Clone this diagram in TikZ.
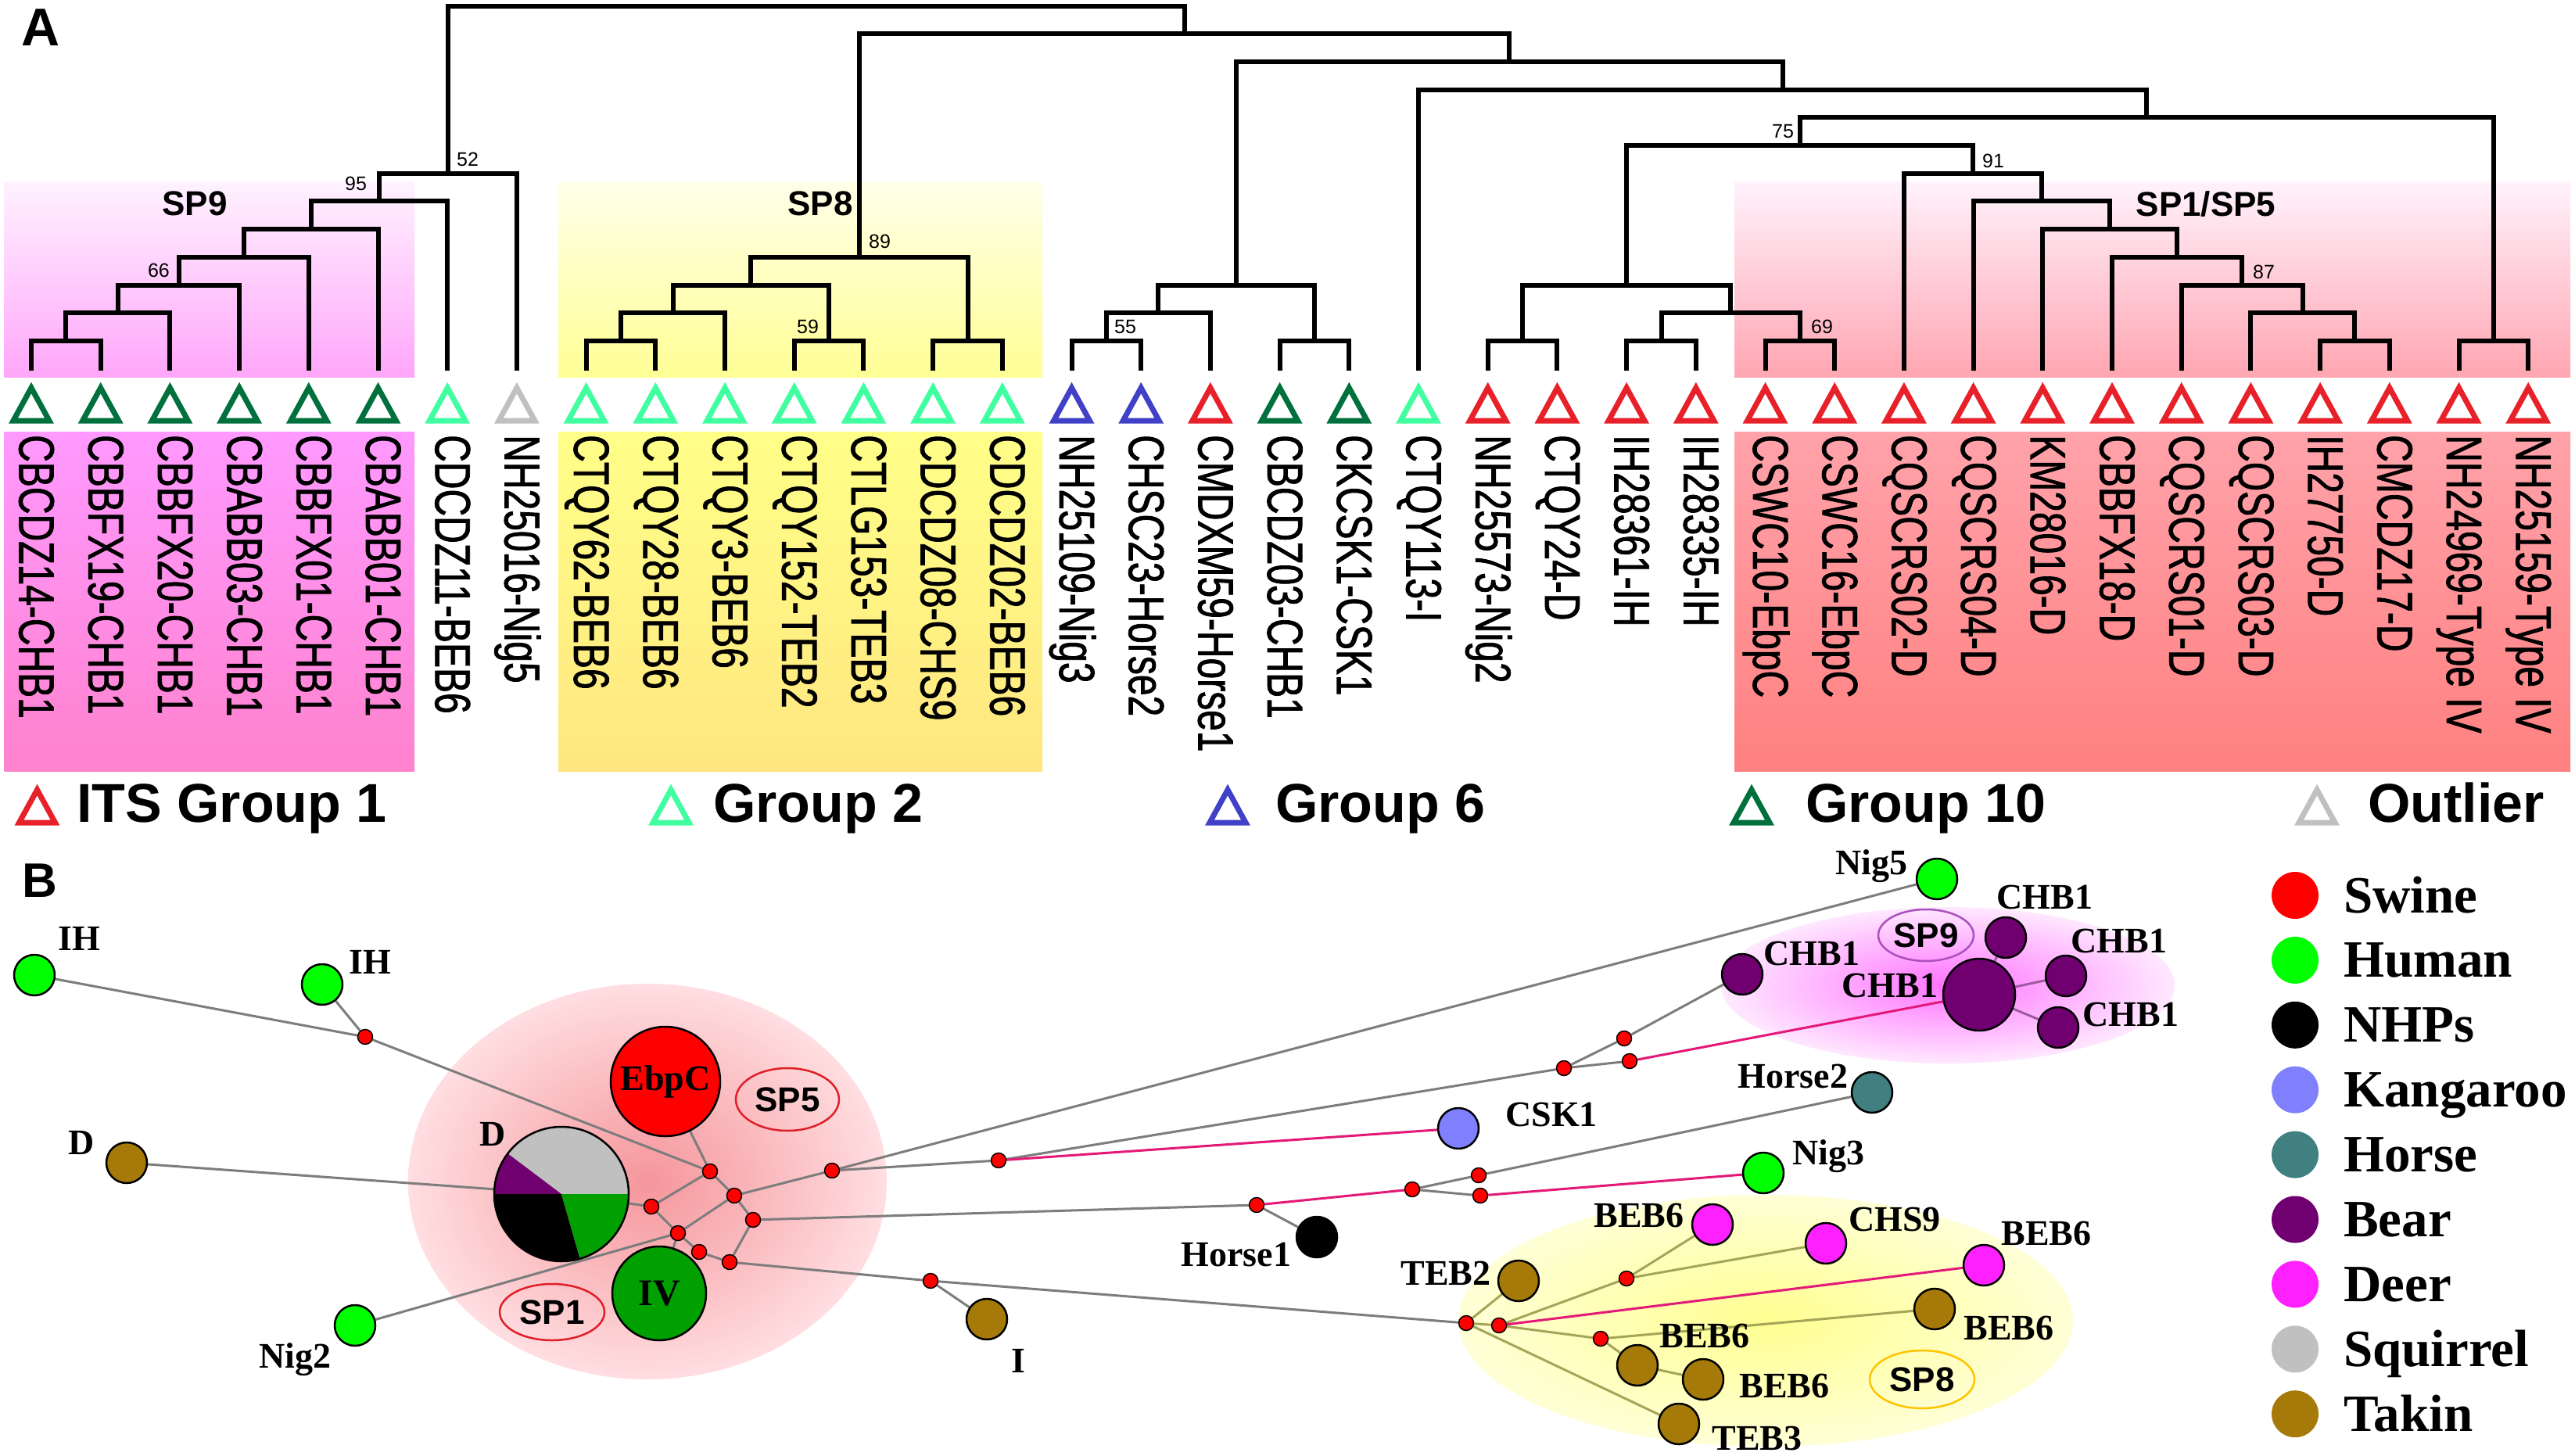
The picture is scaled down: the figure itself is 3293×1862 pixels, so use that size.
\documentclass[tikz,border=0pt]{standalone}
\usepackage{fontspec}
\setmainfont{Liberation Serif}
\newfontfamily\arialf{Liberation Sans}
\newfontfamily\leaff[FakeStretch=0.75,FakeBold=1.2]{Liberation Sans}
\usetikzlibrary{shapes.geometric}
\pgfdeclarelayer{bgbg}
\pgfdeclarelayer{bg}
\pgfsetlayers{bgbg,bg,main}
\definecolor{grpA}{RGB}{232,32,42}
\definecolor{grpB}{RGB}{64,255,160}
\definecolor{grpC}{RGB}{64,64,200}
\definecolor{grpD}{RGB}{0,112,60}
\definecolor{grpE}{RGB}{192,192,192}
\definecolor{swine}{RGB}{255,0,0}
\definecolor{human}{RGB}{0,255,0}
\definecolor{kang}{RGB}{128,128,255}
\definecolor{horse}{RGB}{64,128,128}
\definecolor{bear}{RGB}{112,0,112}
\definecolor{deer}{RGB}{255,32,255}
\definecolor{squir}{RGB}{192,192,192}
\definecolor{takin}{RGB}{165,122,8}
\definecolor{ivgreen}{RGB}{0,160,0}
\definecolor{edgegray}{RGB}{125,125,125}
\definecolor{edgemag}{RGB}{228,24,120}
\definecolor{edgeolive}{RGB}{165,165,90}
\definecolor{edgepurp}{RGB}{160,90,160}
\begin{document}
\begin{tikzpicture}[x=1pt,y=-1pt,
  tree/.style={line width=6pt, line join=miter},
  boot/.style={font=\arialf\fontsize{25}{25}\selectfont, inner sep=0},
  cladelab/.style={font=\arialf\bfseries\fontsize{44}{44}\selectfont, inner sep=0},
  leaflab/.style={rotate=-90, anchor=base west, inner sep=0, font=\leaff\fontsize{64}{64}\selectfont},
  grplab/.style={anchor=base west, inner sep=0, font=\arialf\bfseries\fontsize{70}{70}\selectfont},
  leaftri/.pic={\draw[line width=7pt, line join=miter] (0,-23) -- (-23,19) -- (23,19) -- cycle;},
  nn/.style={circle, draw=black, line width=2.5pt, inner sep=0, minimum size=52},
  sm/.style={circle, draw=black, line width=1.5pt, fill=swine, inner sep=0, minimum size=19},
  netlab/.style={font=\bfseries\fontsize{46}{46}\selectfont, inner sep=0},
  spell/.style={ellipse, line width=2.5pt, inner sep=0, font=\arialf\bfseries\fontsize{44}{44}\selectfont},
  gedge/.style={draw=edgegray, line width=3pt},
  medge/.style={draw=edgemag, line width=3pt},
  oedge/.style={draw=edgeolive, line width=3pt},
  pedge/.style={draw=edgepurp, line width=3pt},
  legtext/.style={anchor=base west, inner sep=0, font=\bfseries\fontsize{67}{67}\selectfont}
]
\useasboundingbox (0,0) rectangle (3293,1862);
\begin{pgfonlayer}{bgbg}
\fill[white] (0,0) rectangle (3293,1862);
% clade boxes
\shade[top color={rgb,255:red,255;green,242;blue,255}, bottom color={rgb,255:red,255;green,166;blue,250}] (5.6,233) rectangle (530,482);
\shade[top color={rgb,255:red,255;green,153;blue,255}, bottom color={rgb,255:red,255;green,130;blue,205}] (5.6,552) rectangle (530,986);
\shade[top color={rgb,255:red,255;green,255;blue,232}, bottom color={rgb,255:red,255;green,255;blue,150}] (714,233) rectangle (1333,482);
\shade[top color={rgb,255:red,255;green,255;blue,136}, bottom color={rgb,255:red,255;green,230;blue,128}] (714,552) rectangle (1333,986);
\shade[top color={rgb,255:red,255;green,242;blue,252}, bottom color={rgb,255:red,255;green,166;blue,178}] (2218,233) rectangle (3287,482);
\shade[top color={rgb,255:red,255;green,162;blue,170}, middle color={rgb,255:red,255;green,134;blue,134}, bottom color={rgb,255:red,255;green,128;blue,128}] (2218,552) rectangle (3287,986);
% network glows
\shade[inner color={rgb,255:red,245;green,150;blue,155}, outer color={rgb,255:red,255;green,222;blue,225}] (828,1511) ellipse [x radius=306, y radius=253];
\shade[inner color={rgb,255:red,255;green,115;blue,255}, outer color={rgb,255:red,255;green,232;blue,255}] (2491,1260) ellipse [x radius=290, y radius=100];
\shade[inner color={rgb,255:red,255;green,255;blue,145}, outer color={rgb,255:red,255;green,255;blue,215}] (2258,1689) ellipse [x radius=393, y radius=161];
\end{pgfonlayer}

% ---------------- Panel A ----------------
\node[font=\arialf\bfseries\fontsize{68}{68}\selectfont, inner sep=0] (labA) at (52,35) {A};
\foreach \i in {0,...,36} \coordinate (L\i) at ({40+88.7*\i},474);
\coordinate (A1) at (84.35,436);  \coordinate (A2) at (150.9,400.3);
\coordinate (A3) at (228.5,364.6); \coordinate (A4) at (311.6,328.9);
\coordinate (A5) at (397.6,293.2); \coordinate (A6) at (484.9,257.5);
\coordinate (A7) at (572.9,221.8);
\coordinate (B1) at (794,436); \coordinate (B2) at (860.5,400.3);
\coordinate (B3) at (1060,436); \coordinate (B4) at (960.3,364.6);
\coordinate (B5) at (1237.5,436); \coordinate (B6) at (1098.9,328.9);
\coordinate (C1) at (1414.9,436); \coordinate (C2) at (1481.4,400.3);
\coordinate (C3) at (1681,436); \coordinate (C4) at (1581.2,364.6);
\coordinate (D1) at (1947,436); \coordinate (D2) at (2124.5,436);
\coordinate (D3) at (2301.9,436); \coordinate (D4) at (2213.2,400.3);
\coordinate (D5) at (2080.1,364.6);
\coordinate (E1) at (3011.4,436); \coordinate (E2) at (2944.9,400.3);
\coordinate (E3) at (2867.3,364.6); \coordinate (E4) at (2784.2,328.9);
\coordinate (E5) at (2698.2,293.2); \coordinate (E6) at (2610.9,257.5);
\coordinate (E7) at (2522.9,221.8); \coordinate (E8) at (2301.5,186.1);
\coordinate (F1) at (3188.9,436); \coordinate (F2) at (2745.2,150.4);
\coordinate (F3) at (2279.6,114.7); \coordinate (F4) at (1930.4,79);
\coordinate (F5) at (1514.7,43.3); \coordinate (R) at (1043.8,7.6);

\draw[tree] (L0) |- (A1) -| (L1);
\draw[tree] (A1) |- (A2) -| (L2);
\draw[tree] (A2) |- (A3) -| (L3);
\draw[tree] (A3) |- (A4) -| (L4);
\draw[tree] (A4) |- (A5) -| (L5);
\draw[tree] (A5) |- (A6) -| (L6);
\draw[tree] (A6) |- (A7) -| (L7);
\draw[tree] (L8) |- (B1) -| (L9);
\draw[tree] (B1) |- (B2) -| (L10);
\draw[tree] (L11) |- (B3) -| (L12);
\draw[tree] (B2) |- (B4) -| (B3);
\draw[tree] (L13) |- (B5) -| (L14);
\draw[tree] (B4) |- (B6) -| (B5);
\draw[tree] (L15) |- (C1) -| (L16);
\draw[tree] (C1) |- (C2) -| (L17);
\draw[tree] (L18) |- (C3) -| (L19);
\draw[tree] (C2) |- (C4) -| (C3);
\draw[tree] (L21) |- (D1) -| (L22);
\draw[tree] (L23) |- (D2) -| (L24);
\draw[tree] (L25) |- (D3) -| (L26);
\draw[tree] (D2) |- (D4) -| (D3);
\draw[tree] (D1) |- (D5) -| (D4);
\draw[tree] (L33) |- (E1) -| (L34);
\draw[tree] (L32) |- (E2) -| (E1);
\draw[tree] (L31) |- (E3) -| (E2);
\draw[tree] (L30) |- (E4) -| (E3);
\draw[tree] (L29) |- (E5) -| (E4);
\draw[tree] (L28) |- (E6) -| (E5);
\draw[tree] (L27) |- (E7) -| (E6);
\draw[tree] (D5) |- (E8) -| (E7);
\draw[tree] (L35) |- (F1) -| (L36);
\draw[tree] (E8) |- (F2) -| (F1);
\draw[tree] (L20) |- (F3) -| (F2);
\draw[tree] (C4) |- (F4) -| (F3);
\draw[tree] (B6) |- (F5) -| (F4);
\draw[tree] (A7) |- (R) -| (F5);

% bootstrap values
\node[boot] (b52) at (598,204) {52};
\node[boot] (b95) at (455,235) {95};
\node[boot] (b66) at (203,346) {66};
\node[boot] (b59) at (1033,418) {59};
\node[boot] (b89) at (1125,309) {89};
\node[boot] (b55) at (1439,418) {55};
\node[boot] (b75) at (2280,168) {75};
\node[boot] (b91) at (2549,206) {91};
\node[boot] (b87) at (2895,348) {87};
\node[boot] (b69) at (2330,418) {69};
% clade labels
\node[cladelab] (sp9t) at (249,260) {SP9};
\node[cladelab] (sp8t) at (1049,260) {SP8};
\node[cladelab] (sp15t) at (2821,261) {SP1/SP5};

% leaves
\foreach \i/\txt/\col in {0/CBCDZ14-CHB1/grpD, 1/CBBFX19-CHB1/grpD, 2/CBBFX20-CHB1/grpD,
  3/CBABB03-CHB1/grpD, 4/CBBFX01-CHB1/grpD, 5/CBABB01-CHB1/grpD, 6/CDCDZ11-BEB6/grpB,
  7/NH25016-Nig5/grpE, 8/CTQY62-BEB6/grpB, 9/CTQY28-BEB6/grpB, 10/CTQY3-BEB6/grpB,
  11/CTQY152-TEB2/grpB, 12/CTLG153-TEB3/grpB, 13/CDCDZ08-CHS9/grpB, 14/CDCDZ02-BEB6/grpB,
  15/NH25109-Nig3/grpC, 16/CHSC23-Horse2/grpC, 17/CMDXM59-Horse1/grpA, 18/CBCDZ03-CHB1/grpD,
  19/CKCSK1-CSK1/grpD, 20/CTQY113-I/grpB, 21/NH25573-Nig2/grpA, 22/CTQY24-D/grpA,
  23/IH28361-IH/grpA, 24/IH28335-IH/grpA, 25/CSWC10-EbpC/grpA, 26/CSWC16-EbpC/grpA,
  27/CQSCRS02-D/grpA, 28/CQSCRS04-D/grpA, 29/KM28016-D/grpA, 30/CBBFX18-D/grpA,
  31/CQSCRS01-D/grpA, 32/CQSCRS03-D/grpA, 33/IH27750-D/grpA, 34/CMCDZ17-D/grpA,
  35/NH24969-Type IV/grpA, 36/NH25159-Type IV/grpA}
{
  \pic[color=\col] at ({40+88.7*\i},519) {leaftri};
  \node[leaflab] (lab\i) at ({40+88.7*\i-15.5},556) {\txt};
}

% group legend
\pic[color=grpA] at (47.5,1033) {leaftri};
\node[grplab] (g1) at (98,1051) {ITS Group 1};
\pic[color=grpB] at (858,1033) {leaftri};
\node[grplab] (g2) at (912,1051) {Group 2};
\pic[color=grpC] at (1570,1033) {leaftri};
\node[grplab] (g6) at (1631,1051) {Group 6};
\pic[color=grpD] at (2240,1033) {leaftri};
\node[grplab] (g10) at (2309,1051) {Group 10};
\pic[color=grpE] at (2963,1033) {leaftri};
\node[grplab] (gout) at (3028,1051) {Outlier};

% ---------------- Panel B ----------------
\node[font=\arialf\bfseries\fontsize{62}{62}\selectfont, inner sep=0] (labB) at (51,1126) {B};

% pie chart
\fill[squir] (718,1527) -- ++(0:86) arc[start angle=0, end angle=-143, radius=86] -- cycle;
\fill[bear] (718,1527) -- ++(-143:86) arc[start angle=-143, end angle=-180, radius=86] -- cycle;
\fill[black] (718,1527) -- ++(-180:86) arc[start angle=-180, end angle=-286, radius=86] -- cycle;
\fill[ivgreen] (718,1527) -- ++(-286:86) arc[start angle=-286, end angle=-360, radius=86] -- cycle;
\node[nn, minimum size=172] (pie) at (718,1527) {};

% big nodes
\node[nn, fill=human] (IHa) at (44,1247) {};
\node[nn, fill=human] (IHb) at (412,1259) {};
\node[nn, fill=takin] (Dt) at (162,1487) {};
\node[nn, fill=swine, minimum size=140, font=\bfseries\fontsize{46}{46}\selectfont] (EbpC) at (851,1383) {EbpC};
\node[nn, fill=ivgreen, minimum size=120, font=\bfseries\fontsize{48}{48}\selectfont] (IV) at (843,1654) {IV};
\node[nn, fill=human] (Nig2) at (454,1695) {};
\node[nn, fill=takin] (In) at (1262,1687) {};
\node[nn, fill=black] (Horse1) at (1684,1582) {};
\node[nn, fill=kang] (CSK1) at (1865,1443) {};
\node[nn, fill=horse] (Horse2) at (2394,1397) {};
\node[nn, fill=human] (Nig3) at (2255,1500) {};
\node[nn, fill=bear] (CHBl) at (2228,1246) {};
\node[nn, fill=human] (Nig5) at (2477,1124) {};
\node[nn, fill=bear, minimum size=92] (CHBbig) at (2531,1272) {};
\node[nn, fill=bear] (CHBt) at (2565,1199) {};
\node[nn, fill=bear] (CHBr) at (2642,1248) {};
\node[nn, fill=bear] (CHBrl) at (2632,1314) {};
\node[nn, fill=takin] (TEB2) at (1942,1638) {};
\node[nn, fill=deer] (BEBd1) at (2190,1566) {};
\node[nn, fill=deer] (CHS9) at (2335,1590) {};
\node[nn, fill=deer] (BEBd2) at (2537,1618) {};
\node[nn, fill=takin] (BEBt1) at (2474,1674) {};
\node[nn, fill=takin] (BEBt2) at (2094,1746) {};
\node[nn, fill=takin] (BEBt3) at (2178,1764) {};
\node[nn, fill=takin] (TEB3) at (2147,1821) {};

% small median vectors
\node[sm] (s1) at (467,1326) {};
\node[sm] (a) at (908,1498) {};
\node[sm] (b) at (939,1529) {};
\node[sm] (c) at (833,1543) {};
\node[sm] (d) at (963,1560) {};
\node[sm] (e) at (867,1577) {};
\node[sm] (f) at (894,1601) {};
\node[sm] (g) at (933,1614) {};
\node[sm] (h) at (1064,1497) {};
\node[sm] (i) at (1277,1484) {};
\node[sm] (j) at (1190,1638) {};
\node[sm] (k) at (1607,1541) {};
\node[sm] (m) at (1806,1521) {};
\node[sm] (s5) at (1891,1503) {};
\node[sm] (s6) at (1893,1529) {};
\node[sm] (s2) at (2000,1366) {};
\node[sm] (s3) at (2077,1328) {};
\node[sm] (s4) at (2084,1357) {};
\node[sm] (t1) at (1875,1692) {};
\node[sm] (t2) at (1917,1695) {};
\node[sm] (t3) at (2080,1635) {};
\node[sm] (t4) at (2047,1712) {};

% SP ellipses
\node[spell, draw={rgb,255:red,225;green,30;blue,40}, minimum width=132, minimum height=80] (sp5) at (1007,1406) {SP5};
\node[spell, draw={rgb,255:red,225;green,30;blue,40}, minimum width=134, minimum height=72] (sp1) at (706,1678) {SP1};
\node[spell, draw={rgb,255:red,170;green,80;blue,190}, minimum width=122, minimum height=66] (sp9) at (2463,1196) {SP9};
\node[spell, draw={rgb,255:red,255;green,195;blue,0}, minimum width=134, minimum height=74] (sp8) at (2458,1764) {SP8};

% labels
\node[netlab] (tIHa) at (101,1200) {IH};
\node[netlab] (tIHb) at (473,1230) {IH};
\node[netlab] (tDt) at (104,1461) {D};
\node[netlab] (tpie) at (630,1450) {D};
\node[netlab] (tNig2) at (377,1739) {Nig2};
\node[netlab] (tIn) at (1302,1740) {I};
\node[netlab] (tCSK1) at (1984,1425) {CSK1};
\node[netlab] (tHorse2) at (2293,1376) {Horse2};
\node[netlab] (tNig3) at (2338,1479) {Nig3};
\node[netlab] (tHorse1) at (1581,1605) {Horse1};
\node[netlab] (tNig5) at (2393,1108) {Nig5};
\node[netlab] (tCHBl) at (2317,1219) {CHB1};
\node[netlab] (tCHBt) at (2615,1147) {CHB1};
\node[netlab] (tCHBbig) at (2417,1260) {CHB1};
\node[netlab] (tCHBr) at (2710,1203) {CHB1};
\node[netlab] (tCHBrl) at (2725,1297) {CHB1};
\node[netlab] (tTEB2) at (1849,1628) {TEB2};
\node[netlab] (tBEBd1) at (2096,1554) {BEB6};
\node[netlab] (tCHS9) at (2423,1559) {CHS9};
\node[netlab] (tBEBd2) at (2617,1577) {BEB6};
\node[netlab] (tBEBt1) at (2569,1698) {BEB6};
\node[netlab] (tBEBt2) at (2180,1708) {BEB6};
\node[netlab] (tBEBt3) at (2282,1772) {BEB6};
\node[netlab] (tTEB3) at (2247,1839) {TEB3};

% edges
\begin{pgfonlayer}{bg}
\draw[gedge] (IHa) -- (s1);
\draw[gedge] (IHb) -- (s1);
\draw[gedge] (s1) -- (a);
\draw[gedge] (EbpC) -- (a);
\draw[gedge] (a) -- (c);
\draw[gedge] (a) -- (b);
\draw[gedge] (c) -- (pie);
\draw[gedge] (c) -- (e);
\draw[gedge] (e) -- (b);
\draw[gedge] (Nig2) -- (e);
\draw[gedge] (e) -- (f);
\draw[gedge] (f) -- (g);
\draw[gedge] (b) -- (d);
\draw[gedge] (d) -- (g);
\draw[gedge] (IV) -- (e);
\draw[gedge] (Dt) -- (pie);
\draw[gedge] (b) -- (h);
\draw[gedge] (h) -- (Nig5);
\draw[gedge] (h) -- (i);
\draw[gedge] (i) -- (s2);
\draw[medge] (i) -- (CSK1);
\draw[gedge] (d) -- (k);
\draw[gedge] (k) -- (Horse1);
\draw[medge] (k) -- (m);
\draw[gedge] (m) -- (s5);
\draw[gedge] (m) -- (s6);
\draw[gedge] (s5) -- (Horse2);
\draw[medge] (s6) -- (Nig3);
\draw[gedge] (g) -- (j);
\draw[gedge] (j) -- (In);
\draw[gedge] (j) -- (t1);
\draw[gedge] (s2) -- (s3);
\draw[gedge] (s2) -- (s4);
\draw[gedge] (s3) -- (CHBl);
\draw[medge] (s4) -- (CHBbig);
\draw[pedge] (CHBbig) -- (CHBt);
\draw[pedge] (CHBbig) -- (CHBr);
\draw[pedge] (CHBbig) -- (CHBrl);
\draw[oedge] (t1) -- (TEB2);
\draw[oedge] (t1) -- (t2);
\draw[oedge] (t1) -- (TEB3);
\draw[oedge] (t2) -- (t3);
\draw[oedge] (t3) -- (BEBd1);
\draw[oedge] (t3) -- (CHS9);
\draw[medge] (t2) -- (BEBd2);
\draw[oedge] (t2) -- (t4);
\draw[oedge] (t4) -- (BEBt1);
\draw[oedge] (t4) -- (BEBt2);
\draw[oedge] (BEBt2) -- (BEBt3);
\end{pgfonlayer}

% species legend
\foreach \nm/\col [count=\k from 0] in {Swine/swine, Human/human, NHPs/black, Kangaroo/kang, Horse/horse, Bear/bear, Deer/deer, Squirrel/squir, Takin/takin}
{
  \node[circle, fill=\col, inner sep=0, minimum size=60] (leg\k) at (2935,{1145+82.9*\k}) {};
  \node[legtext] (legt\k) at (2997,{1167+82.9*\k}) {\nm};
}
\end{tikzpicture}
\end{document}
